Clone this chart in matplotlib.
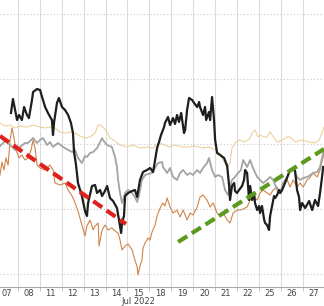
import matplotlib
matplotlib.use("Agg")
import matplotlib.pyplot as plt
from matplotlib.ticker import FixedLocator
import numpy as np

# trading-day labels (Jul 2022); x is measured in trading days from the first label
DAYS=["07","08","11","12","13","14","15","18","19","20","21","22","25","26","27"]
MONTH_LABEL="Jul 2022"

# y is an unlabelled index scale (grid every 65 units)
black_t=[0.18,0.27,0.37,0.46,0.55,0.68,0.78,0.91,1.00,1.14,1.19,1.37,1.51,1.60,1.74,1.87,2.05,2.10,2.15,2.28,
         2.37,2.51,2.65,2.79,2.92,3.01,3.06,3.15,3.24,3.42,3.56,3.65,3.70,3.88,4.02,4.11,4.25,4.34,4.47,4.57,
         4.70,4.84,5.02,5.11,5.21,5.25,5.34,5.39,5.53,5.71,5.84,5.94,6.07,6.21,6.39,6.53,6.67,6.76,6.85,6.94,
         7.03,7.17,7.21,7.35,7.44,7.58,7.67,7.76,7.85,7.95,8.08,8.13,8.22,8.31,8.45,8.54,8.68,8.77,8.81,8.95,
         9.04,9.09,9.22,9.27,9.36,9.45,9.50,9.59,9.73,9.91,10.05,10.14,10.18,10.27,10.37,10.41,10.50,10.59,10.73,10.82,
         10.87,10.96,11.05,11.10,11.19,11.28,11.32,11.42,11.51,11.55,11.64,11.74,11.78,11.87,11.96,12.01,12.10,12.19,12.24,12.33,
         12.42,12.47,12.56,12.69,12.83,12.92,13.06,13.15,13.24,13.33,13.38,13.47,13.61,13.79,13.93,14.06,14.20,14.29,14.38,14.43]
black_v=[161,175,164,154,159,154,167,159,156,174,182,185,184,177,167,161,154,139,152,171,
         176,167,164,159,151,141,122,109,91,78,63,58,71,88,89,81,84,78,83,88,
         76,73,66,54,41,51,58,78,81,83,84,77,94,102,104,106,102,114,126,132,
         139,147,151,157,149,156,150,159,152,161,141,144,164,176,174,171,167,172,167,159,
         167,154,162,154,177,154,134,121,119,116,108,88,74,88,91,83,81,84,88,94,
         104,101,74,88,74,81,71,64,68,61,68,54,51,49,44,58,68,78,76,79,
         84,81,84,91,99,104,106,103,84,77,64,71,66,73,64,74,68,81,97,107]

gray_t=[-0.32,-0.09,0.14,0.37,0.59,0.82,0.96,1.19,1.37,1.51,1.64,1.83,1.96,2.10,2.33,2.56,2.79,2.97,3.11,3.24,
        3.42,3.56,3.65,3.79,3.93,4.11,4.25,4.34,4.38,4.57,4.79,4.93,5.02,5.07,5.16,5.25,5.30,5.39,5.53,5.71,
        5.84,5.94,6.03,6.16,6.30,6.44,6.62,6.76,6.89,7.08,7.12,7.31,7.44,7.58,7.76,7.90,8.04,8.22,8.36,8.49,
        8.68,8.81,8.95,9.13,9.22,9.36,9.50,9.63,9.82,9.95,10.09,10.18,10.27,10.41,10.55,10.68,10.78,10.96,11.10,11.23,
        11.42,11.55,11.69,11.87,12.01,12.15,12.33,12.47,12.60,12.79,12.92,13.06,13.24,13.38,13.52,13.70,13.84,13.97,14.16,14.29,
        14.43,14.47]
gray_v=[128,133,129,124,127,131,131,136,131,134,136,129,132,127,131,127,124,122,124,116,
        111,118,117,121,122,126,132,136,134,129,127,117,107,94,81,71,74,81,84,81,
        77,72,79,94,99,100,101,106,111,112,107,101,106,97,94,101,104,99,101,99,
        104,101,106,111,116,104,97,99,97,84,79,87,94,97,101,104,114,107,114,106,
        97,94,91,94,97,94,84,81,91,97,104,106,97,94,96,97,99,101,102,107,
        121,124]

orange_t=[-0.32,-0.23,-0.14,-0.05,0.05,0.14,0.23,0.32,0.41,0.55,0.68,0.82,0.96,1.10,1.19,1.28,1.37,1.51,1.74,1.96,
          2.10,2.19,2.42,2.65,2.79,2.97,3.11,3.24,3.42,3.56,3.65,3.79,3.93,4.02,4.16,4.20,4.34,4.47,4.61,4.79,
          4.93,5.07,5.16,5.25,5.39,5.53,5.71,5.84,5.94,5.98,6.07,6.16,6.21,6.30,6.44,6.53,6.62,6.76,6.85,6.99,
          7.12,7.21,7.31,7.44,7.58,7.76,7.90,8.04,8.22,8.36,8.49,8.68,8.81,8.95,9.13,9.27,9.41,9.59,9.73,9.86,
          10.05,10.18,10.32,10.50,10.64,10.78,10.96,11.10,11.23,11.42,11.55,11.69,11.87,12.01,12.15,12.33,12.47,12.60,12.79,12.92,
          13.06,13.24,13.38,13.52,13.70,13.84,13.97,14.16,14.29,14.43,14.47]
orange_v=[99,112,104,116,109,134,146,136,124,116,119,114,116,124,134,126,109,106,104,109,
          104,91,89,91,84,78,71,63,49,38,48,54,44,48,51,28,44,49,44,46,
          43,41,34,24,28,30,24,14,7,-1,8,14,26,31,36,34,42,49,58,66,
          71,68,76,67,61,64,57,64,54,61,59,67,77,79,74,67,71,61,57,61,
          54,51,61,64,64,65,67,74,77,74,81,84,81,79,84,87,81,91,94,87,
          94,87,91,87,94,97,101,97,104,117,124]

tan_t=[-0.32,-0.09,0.14,0.37,0.59,0.91,1.19,1.51,1.74,1.96,2.19,2.42,2.65,2.88,3.11,3.33,3.56,3.79,4.02,4.16,
       4.25,4.38,4.57,4.70,4.93,5.16,5.48,5.75,6.07,6.39,6.67,6.89,7.08,7.40,7.67,7.99,8.31,8.58,8.90,9.22,
       9.50,9.68,9.86,10.05,10.18,10.27,10.41,10.59,10.87,11.10,11.19,11.32,11.46,11.55,11.74,11.87,12.01,12.19,12.33,12.56,
       12.79,12.92,13.15,13.47,13.79,14.06,14.25,14.38,14.47]
tan_v=[151,148,149,146,148,147,149,147,146,147,146,142,141,142,141,138,136,137,141,149,
       149,147,142,136,133,129,127,129,126,127,126,131,130,127,129,127,127,128,126,127,
       124,121,114,107,111,126,131,134,132,136,141,144,137,139,137,137,142,136,132,134,
       137,137,132,134,132,131,134,141,147]

# trend lines drawn on the chart (start/end)
red_t=[-0.32,5.43]; red_v=[138,50]
green_t=[7.81,14.47]; green_v=[32,125]

fig=plt.figure(figsize=(3.24,3.06),dpi=100)
ax=fig.add_axes([0,19/306,1,287/306])

ax.plot(tan_t,tan_v,color='#ebcb90',lw=0.7,zorder=2)
ax.plot(orange_t,orange_v,color='#d08448',lw=0.8,zorder=3)
ax.plot(gray_t,gray_v,color='#a3a3a3',lw=1.3,zorder=4)
ax.plot(black_t,black_v,color='#1e1e1e',lw=1.6,zorder=5)
ax.plot(red_t,red_v,color='#e0201a',lw=3,dashes=(2.6,1.3),zorder=6)
ax.plot(green_t,green_v,color='#5c9a1e',lw=3,dashes=(2.6,1.3),zorder=6)

ax.set_xlim(-0.32,14.47)
ax.set_ylim(-13,274)

ax.xaxis.set_major_locator(FixedLocator(np.arange(len(DAYS))))
ax.set_xticklabels(DAYS,fontsize=6.0,color='#444444')
ax.xaxis.set_minor_locator(FixedLocator(np.arange(len(DAYS))+0.5))
ax.tick_params(axis='x',which='major',length=0,pad=1.5)
ax.tick_params(axis='x',which='minor',length=3,color='#bbbbbb')
ax.set_yticks([0,65,130,195,260])
ax.tick_params(axis='y',length=0,labelleft=False)

# month label under the "15" tick, at the bottom edge of the figure
ax.text(DAYS.index("15"),-19/287,MONTH_LABEL,transform=ax.get_xaxis_transform(),
        ha='center',va='bottom',fontsize=6.0,color='#444444',clip_on=False)

ax.grid(True,axis='x',which='minor',color='#dcdcdc',lw=0.8)
ax.grid(True,axis='y',which='major',color='#c8c8c8',lw=0.8,ls=(0,(1,2)))

for s in ['left','right','top']:
    ax.spines[s].set_visible(False)
ax.spines['bottom'].set_color('#aaaaaa')

fig.savefig("out.png",dpi=100)
